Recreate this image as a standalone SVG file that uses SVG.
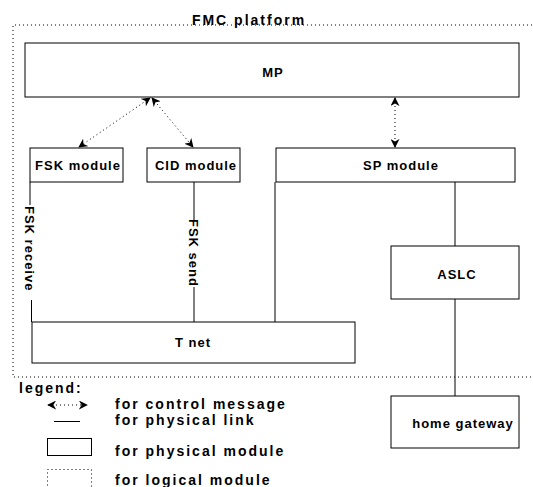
<svg xmlns="http://www.w3.org/2000/svg" width="533" height="487" viewBox="0 0 533 487">
<defs>
<style>
.box{fill:#fff;stroke:#000;stroke-width:1}
.dot{fill:none;stroke:#000;stroke-width:1;stroke-dasharray:1 3}
.ln{stroke:#000;stroke-width:1;fill:none}
.t{font-family:"Liberation Sans",Arial,sans-serif;font-size:13px;font-weight:bold;fill:#000;letter-spacing:1px}
.lg{font-family:"Liberation Sans",Arial,sans-serif;font-size:14px;font-weight:bold;fill:#000;letter-spacing:2px}
</style>
<marker id="ah" viewBox="0 0 10 10" refX="9" refY="5" markerWidth="9" markerHeight="9" orient="auto-start-reverse" markerUnits="userSpaceOnUse">
<path d="M0,0 L10,5 L0,10 L3,5 Z" fill="#000"/>
</marker>
</defs>
<g id="platform">
<path class="dot" d="M540,25 H13 V377 H540"/>
<text class="lg" x="249" y="25" text-anchor="middle">FMC platform</text>
</g>
<g id="connectors">
<line class="dot" x1="150" y1="98" x2="79" y2="147" marker-start="url(#ah)" marker-end="url(#ah)"/>
<line class="dot" x1="152" y1="98" x2="193" y2="147" marker-start="url(#ah)" marker-end="url(#ah)"/>
<line class="dot" x1="395" y1="98" x2="395" y2="147" marker-start="url(#ah)" marker-end="url(#ah)"/>
<path class="ln" d="M30,182 V205 M31.5,300 V322"/>
<path class="ln" d="M194,182 V220 M194,287 V322"/>
<path class="ln" d="M275,182 V322"/>
<path class="ln" d="M455,182 V246 M455,299 V396"/>
<text class="t" transform="translate(25,206) rotate(90)" letter-spacing="2">FSK receive</text>
<text class="t" transform="translate(189,219) rotate(90)" letter-spacing="1.2">FSK send</text>
</g>
<g id="MP"><rect class="box" x="25" y="43" width="494" height="54"/><text class="t" x="273" y="77" text-anchor="middle">MP</text></g>
<g id="FSK"><rect class="box" x="30" y="148" width="93" height="34"/><text class="t" x="78" y="170" text-anchor="middle">FSK module</text></g>
<g id="CID"><rect class="box" x="147" y="148" width="93" height="34"/><text class="t" x="196" y="170" text-anchor="middle">CID module</text></g>
<g id="SP"><rect class="box" x="276" y="148" width="239" height="34"/><text class="t" x="401" y="170" text-anchor="middle">SP module</text></g>
<g id="Tnet"><rect class="box" x="32" y="322" width="323" height="41"/><text class="t" x="193" y="347" text-anchor="middle">T net</text></g>
<g id="ASLC"><rect class="box" x="391" y="246" width="128" height="53"/><text class="t" x="457" y="279" text-anchor="middle">ASLC</text></g>
<g id="gateway"><rect class="box" x="391" y="396" width="128" height="52"/><text class="t" x="463" y="428" text-anchor="middle">home gateway</text></g>
<g id="legend">
<text class="lg" x="19" y="393" letter-spacing="0">legend:</text>
<line class="dot" x1="48" y1="405" x2="87" y2="405" marker-start="url(#ah)" marker-end="url(#ah)"/>
<line class="ln" x1="54" y1="421.5" x2="80" y2="421.5"/>
<rect class="box" x="47.5" y="438.5" width="44" height="17"/>
<rect class="dot" x="47.5" y="469.5" width="44" height="20"/>
<text class="lg" x="115" y="409">for control message</text>
<text class="lg" x="115" y="425">for physical link</text>
<text class="lg" x="115" y="456">for physical module</text>
<text class="lg" x="115" y="485">for logical module</text>
</g>
</svg>
